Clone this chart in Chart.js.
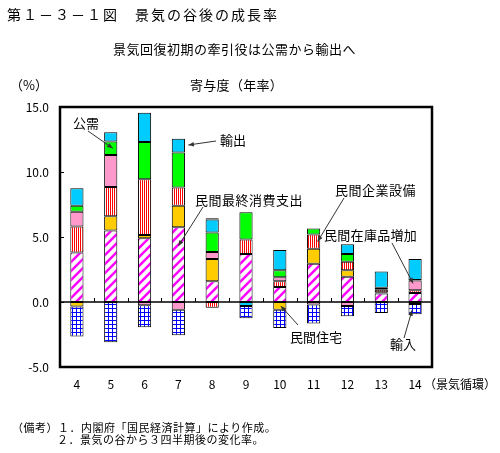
<!DOCTYPE html>
<html lang="ja">
<head>
<meta charset="utf-8">
<script src="https://cdn.jsdelivr.net/npm/chart.js@4.4.1/dist/chart.umd.min.js"></script>
<style>
  html, body { margin: 0; padding: 0; background: #fff; }
  #wrap { position: relative; width: 500px; height: 453px; font-family: "Noto Sans CJK JP", sans-serif; color: #000; }
  #wrap canvas { position: absolute; left: 0; top: 0; }
  .t { position: absolute; white-space: nowrap; line-height: 1; transform: translateY(-50%); font-size: 13px; }
</style>
</head>
<body>
<div id="wrap">
  <canvas id="growth" width="500" height="453"></canvas>
  <div class="t" style="left:7px;top:14px;font-size:14px;letter-spacing:2px">第１－３－１図　景気の谷後の成長率</div>
  <div class="t" style="left:113px;top:48px;letter-spacing:0.5px">景気回復初期の牽引役は公需から輸出へ</div>
  <div class="t" style="left:10px;top:84px">（%）</div>
  <div class="t" style="left:190px;top:84px;letter-spacing:0.3px">寄与度（年率）</div>
  <div class="t" style="left:424px;top:384px;font-size:12px">（景気循環）</div>
  <div class="t" style="left:73px;top:122px">公需</div>
  <div class="t" style="left:220px;top:139px">輸出</div>
  <div class="t" style="left:195px;top:199px;letter-spacing:0.5px">民間最終消費支出</div>
  <div class="t" style="left:335px;top:189px;letter-spacing:0.5px">民間企業設備</div>
  <div class="t" style="left:324px;top:234px;letter-spacing:0.3px">民間在庫品増加</div>
  <div class="t" style="left:290px;top:336px">民間住宅</div>
  <div class="t" style="left:390px;top:343px">輸入</div>
  <div class="t" style="left:12px;top:427px;font-size:11px;letter-spacing:0.5px">（備考）１．内閣府「国民経済計算」により作成。</div>
  <div class="t" style="left:57px;top:439px;font-size:11px;letter-spacing:0.5px">２．景気の谷から３四半期後の変化率。</div>
</div>
<script>
const ctx = document.getElementById('growth');

// 景気循環（谷）
const cycles = ['4', '5', '6', '7', '8', '9', '10', '11', '12', '13', '14'];

// 寄与度（％）
const consumption = [3.8, 5.5, 4.9, 5.75, 1.6, 3.7, 1.15, 2.95, 1.95, 0.65, 0.7];
const housing     = [-0.35, 1.1, 0.25, 1.65, 1.7, null, -0.6, 1.15, 0.5, 0.1, -0.15];
const investment  = [2.0, 2.25, 4.3, 1.4, -0.45, 1.1, 0.45, 1.1, 0.65, 0.2, 0.2];
const inventory   = [1.15, 2.45, -0.25, -0.6, 0.55, null, 0.3, -0.2, -0.3, 0.15, 0.75];
const publicDem   = [0.45, 1.05, 2.85, 2.7, 1.5, 2.1, 0.55, 0.45, 0.6, null, 0.05];
const exportsArr  = [1.35, 0.7, 2.25, 1.05, 1.0, -0.3, 1.55, null, 0.75, 1.25, 1.6];
const importsArr  = [-2.3, -3.1, -1.7, -1.95, 0.1, -0.95, -1.4, -1.45, -0.8, -0.85, -0.8];

const yTicks = [-5, 0, 5, 10, 15];

function makePattern(w, h, draw) {
  const c = document.createElement('canvas');
  c.width = w; c.height = h;
  const g = c.getContext('2d');
  g.fillStyle = '#fff';
  g.fillRect(0, 0, w, h);
  draw(g, w, h);
  return document.createElement('canvas').getContext('2d').createPattern(c, 'repeat');
}

const diagMagenta = makePattern(9, 9, (g, w) => {
  g.strokeStyle = '#FF00FF';
  g.lineWidth = 2.5;
  [0, w, 2 * w].forEach(k => {
    g.beginPath();
    g.moveTo(k - w - 1, w + 1);
    g.lineTo(k + 1, -1);
    g.stroke();
  });
});
const vertRed = makePattern(2, 1, g => {
  g.fillStyle = '#FF0000';
  g.fillRect(0, 0, 1, 1);
});
const gridBlue = makePattern(4, 4, g => {
  g.fillStyle = '#0000FF';
  g.fillRect(0, 0, 4, 1);
  g.fillRect(0, 0, 1, 4);
});

const series = [
  { label: '民間最終消費支出', data: consumption, bg: diagMagenta },
  { label: '民間住宅', data: housing, bg: '#FFCC00' },
  { label: '民間企業設備', data: investment, bg: vertRed },
  { label: '民間在庫品増加', data: inventory, bg: '#FF99CC' },
  { label: '公需', data: publicDem, bg: '#00FF00' },
  { label: '輸出', data: exportsArr, bg: '#00CCFF' },
  { label: '輸入', data: importsArr, bg: gridBlue },
];

let datasets = [];
series.forEach((s) => {
  datasets.push({
    label: s.label,
    data: s.data,
    backgroundColor: s.bg,
    borderColor: '#000',
    borderWidth: 1,
    borderSkipped: false,
    barPercentage: 0.39,
    categoryPercentage: 1.0
  });
});

// arrows: dataset index, bar index, start point, x offset, position inside segment
const callouts = [
  { ds: 4, bar: 1, from: [88, 131], dx: 2, frac: 0.5 },
  { ds: 5, bar: 3, from: [216, 141], dx: 10, frac: 0.45 },
  { ds: 0, bar: 3, from: [203, 207], dx: 0, frac: 0.25 },
  { ds: 2, bar: 7, from: [344, 198], dx: 4, frac: 0.5 },
  { ds: 3, bar: 10, from: [392, 243], dx: -2, frac: 0.3 },
  { ds: 1, bar: 6, from: [298, 325], dx: 1, frac: 0.5 },
  { ds: 6, bar: 10, from: [404, 338], dx: -3, frac: 0.6 },
];

function arrow(c, x1, y1, x2, y2) {
  const a = Math.atan2(y2 - y1, x2 - x1);
  c.beginPath();
  c.moveTo(x1, y1);
  c.lineTo(x2, y2);
  c.stroke();
  c.beginPath();
  c.moveTo(x2, y2);
  c.lineTo(x2 - 6 * Math.cos(a - 0.4), y2 - 6 * Math.sin(a - 0.4));
  c.lineTo(x2 - 6 * Math.cos(a + 0.4), y2 - 6 * Math.sin(a + 0.4));
  c.closePath();
  c.fill();
}

const framePlugin = {
  id: 'frame',
  afterDatasetsDraw(chart) {
    const c = chart.ctx;
    const a = chart.chartArea;
    const x = chart.scales.x, y = chart.scales.y;
    const y0 = y.getPixelForValue(0);
    c.save();
    c.strokeStyle = '#000';
    // zero line
    c.lineWidth = 1.5;
    c.beginPath();
    c.moveTo(a.left, y0);
    c.lineTo(a.right, y0);
    c.stroke();
    // inward y ticks
    c.lineWidth = 1;
    yTicks.forEach(v => {
      const py = Math.round(y.getPixelForValue(v)) + 0.5;
      c.beginPath();
      c.moveTo(a.left, py);
      c.lineTo(a.left + 4, py);
      c.stroke();
    });
    // category ticks on zero line
    const step = x.getPixelForValue(1) - x.getPixelForValue(0);
    for (let i = 1; i < cycles.length; i++) {
      const px = Math.round(x.getPixelForValue(i) - step / 2) + 0.5;
      c.beginPath();
      c.moveTo(px, y0);
      c.lineTo(px, y0 - 4);
      c.stroke();
    }
    // frame
    c.lineWidth = 2.5;
    c.strokeRect(a.left, a.top, a.right - a.left, a.bottom - a.top);
    // callout arrows
    c.strokeStyle = '#333';
    c.fillStyle = '#333';
    c.lineWidth = 1;
    callouts.forEach(o => {
      const el = chart.getDatasetMeta(o.ds).data[o.bar];
      const top = Math.min(el.y, el.base), bot = Math.max(el.y, el.base);
      arrow(c, o.from[0], o.from[1], el.x + o.dx, top + (bot - top) * o.frac);
    });
    c.restore();
  }
};

const config = {
  type: 'bar',
  data: { labels: cycles, datasets: datasets },
  plugins: [framePlugin],
  options: {
    responsive: false,
    animation: false,
    layout: { padding: { left: 0, top: 107, right: 68, bottom: 56 } },
    plugins: {
      legend: { display: false },
      tooltip: { enabled: false }
    },
    scales: {
      x: {
        stacked: true,
        grid: { display: false, drawTicks: false },
        border: { display: false },
        ticks: { color: '#000', padding: 10, font: { family: '"Noto Sans CJK JP"', size: 12 } },
        afterFit: (s) => { s.height = 30; }
      },
      y: {
        stacked: true,
        min: -5,
        max: 15,
        grid: { display: false, drawTicks: false },
        border: { display: false },
        ticks: {
          stepSize: 5,
          color: '#000',
          padding: 11,
          font: { family: '"Noto Sans CJK JP"', size: 12 },
          callback: (v) => v.toFixed(1)
        },
        afterFit: (s) => { s.width = 60; }
      }
    }
  }
};

new Chart(ctx, config);
</script>
</body>
</html>
